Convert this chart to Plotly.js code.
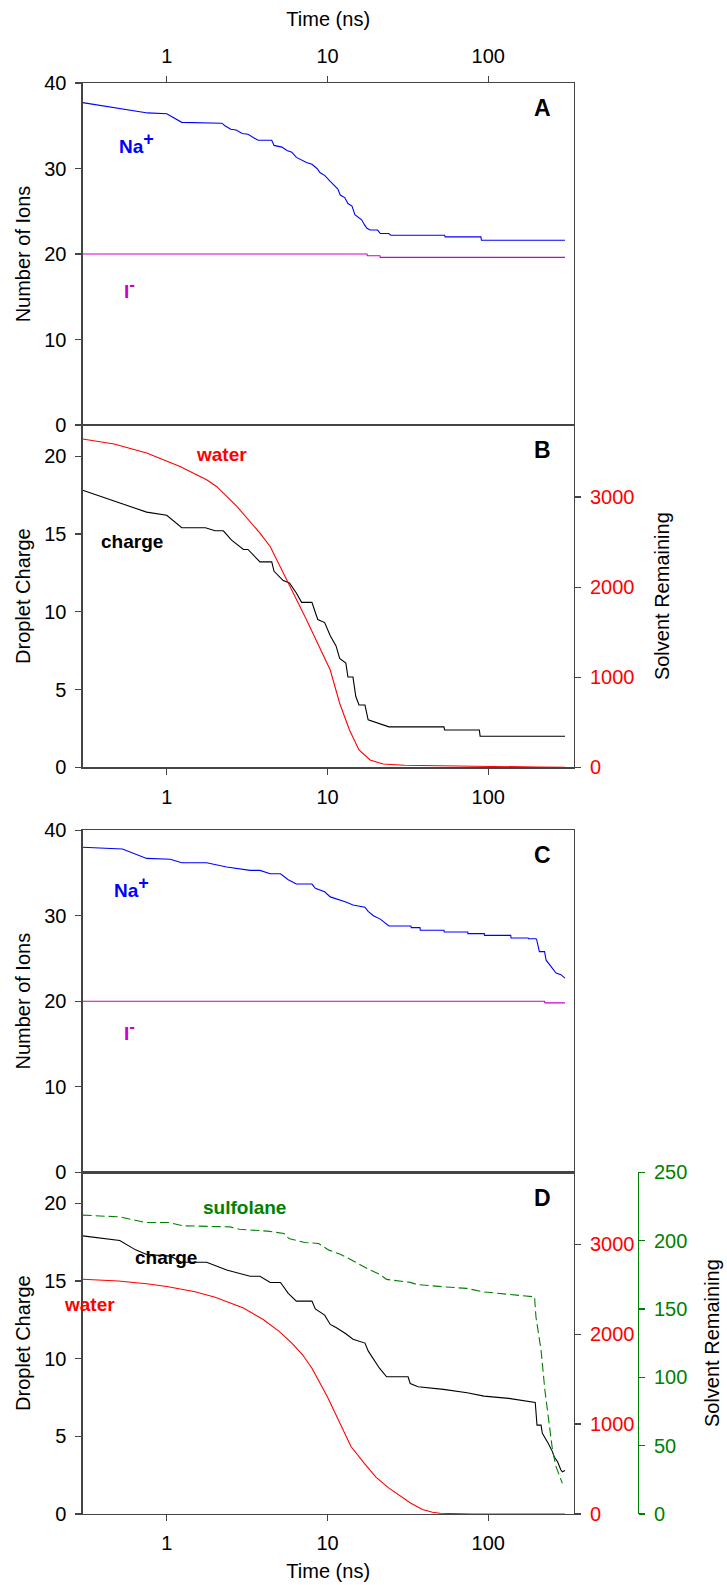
<!DOCTYPE html>
<html>
<head>
<meta charset="utf-8">
<script src="https://cdn.plot.ly/plotly-3.0.1.min.js"></script>
<style>html,body{margin:0;padding:0;background:#fff}#chart{width:727px;height:1585px}</style>
</head>
<body>
<div id="chart"></div>
<script>
// ---------------- DATA ----------------
// Panel A: number of ions (water droplet)
const aNaT = [0.3,0.76,1.0,1.24,2.2,2.3,2.5,2.7,2.95,3.2,3.7,4.5,4.65,5.2,5.6,6.0,6.4,6.9,7.4,8.0,8.6,9.0,9.6,10.4,11.0,11.6,12.0,12.8,13.4,14.2,14.8,15.6,16.3,17.0,17.6,18.4,20.5,21.3,24.0,24.8,53.5,54,90,90.7,300];
const aNaV = [37.7,36.5,36.4,35.4,35.3,35.0,34.6,34.5,34.1,34.0,33.3,33.3,32.7,32.5,32.1,31.9,31.3,31.0,30.7,30.5,30.0,29.5,29.2,28.5,28.0,27.6,26.9,26.6,25.9,25.6,24.6,24.3,24.0,23.4,23.0,22.8,22.8,22.4,22.4,22.2,22.2,22.0,22.0,21.6,21.6];
const aIT = [0.3,17.6,17.7,21.2,21.3,300];
const aIV = [20,20,19.8,19.8,19.6,19.6];

// Panel B: droplet charge and water remaining
const bChargeT = [0.3,0.75,1.0,1.24,1.74,2.0,2.25,2.53,3.0,3.2,3.8,4.5,4.65,5.3,5.8,6.4,6.9,8.0,8.4,8.7,9.6,10.4,11.3,11.9,13.0,13.4,14.4,15.0,15.7,17.1,17.9,20.7,24.1,53,53.5,88,89,300];
const bChargeV = [17.8,16.4,16.2,15.4,15.4,15.2,15.2,14.6,14.0,14.0,13.2,13.2,12.6,12.0,11.85,11.2,10.6,10.6,9.95,9.5,9.3,8.45,7.8,7.0,6.7,5.8,5.8,4.55,4.0,4.0,3.05,2.83,2.6,2.6,2.4,2.4,2.0,2.0];
const bWaterT = [0.3,0.47,0.75,1.21,1.77,2.04,2.73,3.8,4.4,5.6,7.4,10.4,11.9,13.7,15.7,18.4,22.2,30,50,100,200,300];
const bWaterV = [3644,3589,3489,3340,3192,3118,2896,2600,2451,2081,1637,1080,711,414,192,81,37,22,15,8,3,0];

// Panel C: number of ions (water/sulfolane droplet)
const cNaT = [0.3,0.53,0.75,1.05,1.24,1.77,2.36,3.3,3.8,4.4,5.1,5.7,6.4,8.0,8.4,9.6,10.4,11.3,13.0,14.4,17.1,17.9,19.3,21.3,24.1,33,33.2,37.6,37.8,53,53.2,74.5,74.7,94.5,94.7,138,138.5,177,178,198,200,208,224,229,246,264,283,300];
const cNaV = [38.0,37.8,36.7,36.6,36.2,36.2,35.7,35.3,35.3,34.9,34.9,34.2,33.7,33.7,33.2,32.8,32.2,32.0,31.6,31.25,31.0,30.5,30.0,29.6,28.8,28.8,28.6,28.6,28.3,28.3,28.1,28.1,27.9,27.9,27.7,27.7,27.4,27.4,27.3,27.3,27.2,25.8,25.8,24.8,24.0,23.3,23.1,22.7];
const cIT = [0.3,224,225,300];
const cIV = [20,20,19.8,19.8];

// Panel D: droplet charge, water and sulfolane remaining
const dChargeT = [0.3,0.51,0.64,0.75,1.05,1.24,1.77,2.36,3.3,3.8,4.4,5.1,5.7,6.4,8.0,8.4,9.6,10.4,11.3,13.0,14.4,17.1,17.9,19.3,21.0,23.3,31.7,32.7,36.6,52.6,73.9,94,134,196,201,213,217,236,251,257,270,283,289,300];
const dChargeV = [17.9,17.6,17.0,16.7,16.6,16.2,16.2,15.7,15.3,15.3,14.9,14.9,14.2,13.7,13.7,13.2,12.8,12.2,12.0,11.6,11.25,11.0,10.5,10.0,9.4,8.83,8.83,8.4,8.19,8.02,7.8,7.59,7.44,7.18,5.72,5.72,5.19,4.55,4.0,3.68,3.36,2.83,2.72,2.8];
const dWaterT = [0.3,0.5,0.75,1,1.5,2,3,4,5,6,7,8,10,12,14,17,20,24,28,33,39,45,50,60,80,300];
const dWaterV = [2610,2590,2560,2530,2470,2410,2290,2160,2030,1900,1770,1620,1300,1000,750,560,410,290,205,120,50,20,8,2,0,0];
const dSulfT = [0.3,0.51,0.74,1.03,1.26,2.48,2.83,4.24,5.36,5.74,7.2,8.8,10.2,12,14,16,18,21.2,23.3,32.7,35.9,52.6,73.4,93.1,134,172,194,198,213,225,240,251,264,277,289];
const dSulfV = [218.6,217.3,213.2,213.2,210.8,210,208.3,206.9,205.2,201.5,198.6,197.9,193,190,186,182,179,175.2,171.6,169.4,167.9,166.2,165.0,162.5,160.8,159.6,158.8,144.2,119.9,90.6,63.8,46.8,34.6,28.5,22.4];

// tick labels
const timeTicks = [1,10,100];
const timeTickText = ['1','10','100'];
const ionTicks = [0,10,20,30,40];
const chargeTicks = [0,5,10,15,20];
const waterTicks = [0,1000,2000,3000];
const sulfTicks = [0,50,100,150,200,250];

// ---------------- LAYOUT ----------------
const W = 727, H = 1585;
const PX = x => x / W;
const PY = y => 1 - y / H;
const FONT = 'Liberation Sans, Arial, Helvetica, sans-serif';
const AX = '#444';
const BLUE = '#0000FF', MAG = '#CC00CC', RED = '#FF0000', GREEN = '#008000';

const xDom = [PX(82.7), PX(573.7)];
const domA = [PY(425), PY(83)];
const domB = [PY(767.3), PY(425)];
const domC = [PY(1172.2), PY(830.2)];
const domD = [PY(1514), PY(1172.2)];

const tf = (c) => ({family: FONT, size: 20, color: c || '#000'});

function xax(extra) {
  return Object.assign({
    type: 'log', domain: xDom, range: [Math.log10(0.3), Math.log10(340)],
    tickmode: 'array', tickvals: timeTicks, ticktext: timeTickText,
    ticks: 'outside', ticklen: 6, tickwidth: 1.2, tickcolor: AX,
    showline: true, linecolor: AX, linewidth: 1.3, mirror: true,
    showgrid: false, zeroline: false, tickfont: tf(), ticklabelstandoff: 5
  }, extra);
}
function yax(extra) {
  return Object.assign({
    ticks: 'outside', ticklen: 6, tickwidth: 1.2, tickcolor: AX,
    showline: true, linecolor: AX, linewidth: 1.3,
    showgrid: false, zeroline: false, tickfont: tf(), ticklabelstandoff: 5,
    tickmode: 'array'
  }, extra);
}

const line = (c, w, dash) => ({color: c, width: w || 1.1, dash: dash || 'solid'});

const traces = [
  {x: aNaT, y: aNaV, xaxis: 'x', yaxis: 'y', mode: 'lines', line: line(BLUE), name: 'Na+'},
  {x: aIT, y: aIV, xaxis: 'x', yaxis: 'y', mode: 'lines', line: line(MAG), name: 'I-'},
  {x: bWaterT, y: bWaterV, xaxis: 'x2', yaxis: 'y3', mode: 'lines', line: line(RED), name: 'water'},
  {x: bChargeT, y: bChargeV, xaxis: 'x2', yaxis: 'y2', mode: 'lines', line: line('#000'), name: 'charge'},
  {x: cNaT, y: cNaV, xaxis: 'x3', yaxis: 'y4', mode: 'lines', line: line(BLUE), name: 'Na+'},
  {x: cIT, y: cIV, xaxis: 'x3', yaxis: 'y4', mode: 'lines', line: line(MAG), name: 'I-'},
  {x: dWaterT, y: dWaterV, xaxis: 'x4', yaxis: 'y6', mode: 'lines', line: line(RED), name: 'water'},
  {x: dSulfT, y: dSulfV, xaxis: 'x4', yaxis: 'y7', mode: 'lines', line: line(GREEN, 1.1, '9px,4px'), name: 'sulfolane'},
  {x: dChargeT, y: dChargeV, xaxis: 'x4', yaxis: 'y5', mode: 'lines', line: line('#000'), name: 'charge'}
];

const lab = (text, x, y, color, size) => ({
  text: '<b>' + text + '</b>', xref: 'paper', yref: 'paper', x: PX(x), y: PY(y),
  xanchor: 'center', yanchor: 'middle', showarrow: false,
  font: {family: FONT, size: size || 19, color: color}
});
const NA = 'Na<sup><span style="font-size:18px">+</span></sup>';
const IM = 'I<sup><span style="font-size:17px">-</span></sup>';

const layout = {
  width: W, height: H, margin: {l: 0, r: 0, t: 0, b: 0},
  paper_bgcolor: '#fff', plot_bgcolor: '#fff', showlegend: false,
  font: {family: FONT, color: '#000'},
  xaxis: xax({anchor: 'y', side: 'top', title: {text: 'Time (ns)', font: tf(), standoff: 12}}),
  xaxis2: xax({anchor: 'y2'}),
  xaxis3: xax({anchor: 'y4', ticks: '', showticklabels: false}),
  xaxis4: xax({anchor: 'y5', title: {text: 'Time (ns)', font: tf(), standoff: 10}}),
  yaxis: yax({domain: domA, anchor: 'x', range: [0, 40], tickvals: ionTicks, mirror: true,
    title: {text: 'Number of Ions', font: tf(), standoff: 8}}),
  yaxis2: yax({domain: domB, anchor: 'x2', range: [0, 22], tickvals: chargeTicks,
    title: {text: 'Droplet Charge', font: tf(), standoff: 8}}),
  yaxis3: yax({overlaying: 'y2', anchor: 'x2', side: 'right', range: [0, 3800], tickvals: waterTicks,
    tickfont: tf(RED), title: {text: 'Solvent Remaining', font: tf(), standoff: 21}}),
  yaxis4: yax({domain: domC, anchor: 'x3', range: [0, 40], tickvals: ionTicks, mirror: true,
    title: {text: 'Number of Ions', font: tf(), standoff: 8}}),
  yaxis5: yax({domain: domD, anchor: 'x4', range: [0, 22], tickvals: chargeTicks,
    title: {text: 'Droplet Charge', font: tf(), standoff: 8}}),
  yaxis6: yax({overlaying: 'y5', anchor: 'x4', side: 'right', range: [0, 3800], tickvals: waterTicks,
    tickfont: tf(RED)}),
  yaxis7: yax({overlaying: 'y5', anchor: 'free', position: PX(637.7), side: 'right', range: [0, 250],
    tickvals: sulfTicks, tickfont: tf(GREEN), linecolor: GREEN, tickcolor: GREEN,
    title: {text: 'Solvent Remaining', font: tf(), standoff: 18}}),
  annotations: [
    lab(NA, 136, 143, BLUE),
    lab(IM, 129, 289, MAG),
    lab('A', 542.3, 107.7, '#000', 23),
    lab('water', 221, 454.3, RED),
    lab('charge', 132, 541.7, '#000'),
    lab('B', 542.3, 450, '#000', 23),
    lab(NA, 131, 887, BLUE),
    lab(IM, 129, 1030, MAG),
    lab('C', 542.3, 854.7, '#000', 23),
    lab('sulfolane', 244, 1207.3, GREEN),
    lab('charge', 166, 1257, '#000'),
    lab('water', 89, 1304, RED),
    lab('D', 542.3, 1198.3, '#000', 23)
  ]
};

Plotly.newPlot('chart', traces, layout, {staticPlot: true, displayModeBar: false});
</script>
</body>
</html>
